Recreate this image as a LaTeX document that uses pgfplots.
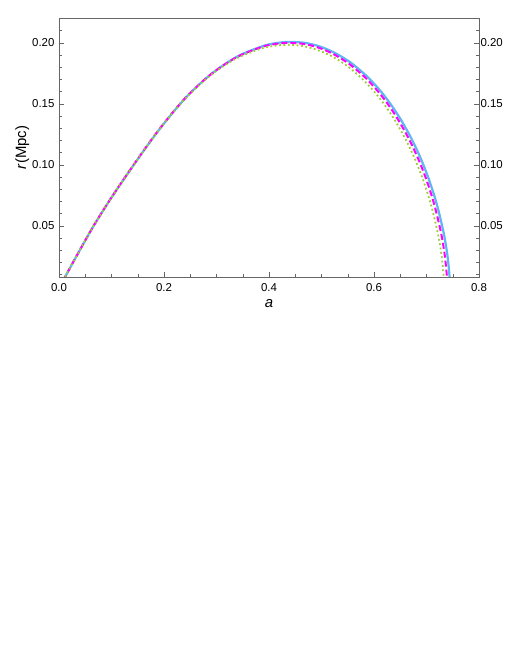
\documentclass[border=0pt]{standalone}
\usepackage{fontspec}
\setmainfont{Liberation Sans}
\usepackage{pgfplots}
\pgfplotsset{compat=1.18}
\definecolor{cblue}{HTML}{5EB6F2}
\definecolor{cmag}{HTML}{FF00FF}
\definecolor{cgreen}{HTML}{9ACD32}
\definecolor{frame}{HTML}{666666}

\pgfplotstableread{
a r
0.0000 -0.0014
0.0100 0.0067
0.0300 0.0225
0.0650 0.0492
0.1000 0.0731
0.1450 0.1015
0.1900 0.1283
0.2400 0.1543
0.2900 0.1744
0.3400 0.1888
0.3900 0.1975
0.4200 0.2001
0.4430 0.2007
0.4700 0.1998
0.4970 0.1969
0.5250 0.1918
0.5550 0.1839
0.5860 0.1727
0.6100 0.1617
0.6300 0.1507
0.6500 0.1378
0.6700 0.1225
0.6880 0.1062
0.7045 0.0881
0.7194 0.0680
0.7325 0.0446
0.7395 0.0268
0.7435 0.0104
0.7445 0.0000
}\blue

\pgfplotstableread{
a r
0.0000 -0.0014
0.0099 0.0067
0.0298 0.0224
0.0646 0.0490
0.0993 0.0728
0.1440 0.1011
0.1887 0.1278
0.2384 0.1537
0.2881 0.1737
0.3377 0.1880
0.3874 0.1967
0.4172 0.1993
0.4400 0.1999
0.4669 0.1990
0.4937 0.1961
0.5215 0.1910
0.5513 0.1831
0.5821 0.1720
0.6059 0.1610
0.6258 0.1501
0.6456 0.1372
0.6655 0.1220
0.6834 0.1057
0.6998 0.0878
0.7146 0.0677
0.7276 0.0444
0.7345 0.0267
0.7385 0.0104
0.7395 0.0000
}\magenta

\pgfplotstableread{
a r
0.0000 -0.0014
0.0099 0.0066
0.0296 0.0222
0.0640 0.0486
0.0985 0.0722
0.1428 0.1003
0.1872 0.1268
0.2364 0.1524
0.2857 0.1723
0.3349 0.1865
0.3842 0.1951
0.4137 0.1977
0.4364 0.1983
0.4630 0.1974
0.4895 0.1945
0.5171 0.1895
0.5467 0.1817
0.5772 0.1706
0.6009 0.1597
0.6206 0.1489
0.6403 0.1361
0.6600 0.1210
0.6777 0.1049
0.6939 0.0871
0.7086 0.0672
0.7215 0.0440
0.7284 0.0265
0.7323 0.0103
0.7333 0.0000
}\green

\pgfplotsset{
  base/.style={
    scale only axis,
    width=420bp, height=259bp,
    at={(59bp,383bp)}, anchor=south west,
    xmin=0, xmax=0.8, ymin=0.008, ymax=0.2203,
    axis line style={frame, line width=0.6pt},
    tick style={frame, line width=0.5pt},
    major tick length=5bp, minor tick length=3bp,
    ticklabel style={font=\fontsize{11.5}{13}\selectfont},
    /pgf/number format/assume math mode=true,
    ytick={0.05,0.10,0.15,0.20},
    minor ytick={0.01,0.02,...,0.22},
    yticklabel style={/pgf/number format/fixed, /pgf/number format/fixed zerofill, /pgf/number format/precision=2},
  }
}

\begin{document}
\begin{tikzpicture}
\path[use as bounding box] (0,0) rectangle (510bp,660bp);
\begin{axis}[
    base,
    xtick={0,0.2,0.4,0.6,0.8},
    minor xtick={0.05,0.1,0.15,0.25,0.3,0.35,0.45,0.5,0.55,0.65,0.7,0.75},
    xticklabel style={/pgf/number format/fixed, /pgf/number format/fixed zerofill, /pgf/number format/precision=1, yshift=-2.5bp},
    xtick pos=bottom,
    ytick pos=left,
    yticklabel style={xshift=-1bp},
    xlabel={\fontsize{15}{17}\selectfont\itshape a},
    ylabel={\fontsize{15}{17}\selectfont\textit{r}(Mpc)},
    xlabel style={yshift=-1bp},
    ylabel style={yshift=-4bp},
]
\addplot[cblue, line width=2.2bp, smooth] table[x=a, y=r] {\blue};
\addplot[cmag, line width=2bp, smooth, dash pattern=on 6bp off 3bp] table[x=a, y=r] {\magenta};
\addplot[cgreen, line width=1.8bp, smooth, dash pattern=on 1.8bp off 2.6bp] table[x=a, y=r] {\green};
\end{axis}
\begin{axis}[
    base,
    axis x line=none,
    axis y line*=right,
    ytick pos=right,
    yticklabel pos=right,
    yticklabel style={xshift=-2bp},
]
\addplot[draw=none] coordinates {(0.4,0.1)};
\end{axis}
\end{tikzpicture}
\end{document}
